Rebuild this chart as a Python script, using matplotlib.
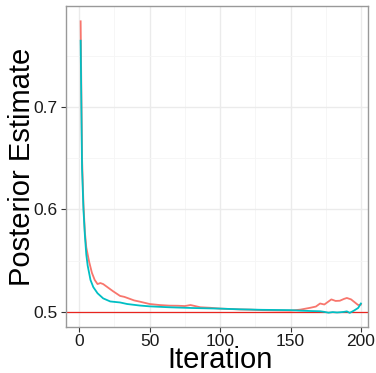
import matplotlib.pyplot as plt
from matplotlib.ticker import MultipleLocator

plt.rcParams['font.family'] = ['Liberation Sans', 'DejaVu Sans']

# chain 1 (red)
iter_a = [1, 2, 3, 4, 5, 7, 9, 11, 13, 15, 17, 20, 24, 29, 32, 39, 43, 50, 57, 64,
          70, 75, 79, 86, 93, 100, 107, 114, 122, 130, 140, 150, 157, 164, 168,
          171, 174, 177, 179, 182, 185, 188, 190, 193, 195, 198, 200]
est_a = [0.784, 0.650, 0.605, 0.578, 0.563, 0.549, 0.538, 0.531, 0.527, 0.528, 0.527,
         0.524, 0.520, 0.5154, 0.5145, 0.511, 0.5098, 0.5075, 0.5065, 0.5059,
         0.5058, 0.5055, 0.5065, 0.5043, 0.5038, 0.503, 0.5026, 0.5022, 0.502,
         0.5015, 0.5012, 0.501, 0.502, 0.5038, 0.505,
         0.508, 0.507, 0.510, 0.512, 0.5105, 0.5107, 0.5125, 0.5134, 0.512, 0.5098,
         0.5065, 0.507]

# chain 2 (cyan)
iter_b = [1, 2, 3, 4, 5, 6, 8, 10, 13, 17, 22, 29, 34, 43, 50, 64, 80, 100, 114,
          130, 150, 157, 165, 171, 174, 177, 180, 183, 185, 188, 190, 192, 195,
          198, 200]
est_b = [0.765, 0.640, 0.600, 0.575, 0.556, 0.545, 0.531, 0.524, 0.518, 0.513,
         0.510, 0.509, 0.5075, 0.506, 0.5052, 0.5043, 0.5036, 0.503, 0.5023,
         0.5018, 0.5015, 0.501, 0.5006, 0.5004, 0.4998, 0.499, 0.4996, 0.4992,
         0.4994, 0.4998, 0.5003, 0.4988, 0.501, 0.5036, 0.508]

fig = plt.figure(figsize=(3.76, 3.73), dpi=100)
ax = fig.add_axes([0.1755, 0.1233, 0.8032, 0.8607])

ax.axhline(0.5, color='#E8251F', lw=0.9, zorder=2)
ax.plot(iter_a, est_a, color='#F8766D', lw=1.3, zorder=3)
ax.plot(iter_b, est_b, color='#00BFC4', lw=1.3, zorder=4)

ax.set_xlim(-9.4, 205)
ax.set_ylim(0.485, 0.799)
ax.xaxis.set_major_locator(MultipleLocator(50))
ax.xaxis.set_minor_locator(MultipleLocator(25))
ax.yaxis.set_minor_locator(MultipleLocator(0.05))
ax.set_yticks([0.5, 0.6, 0.7])
ax.set_yticklabels(['0.5', '0.6', '0.7'])

ax.grid(which='major', color='#EBEBEB', lw=1.0, zorder=0)
ax.grid(which='minor', color='#F5F5F5', lw=0.6, zorder=0)
ax.set_axisbelow(True)
for s in ax.spines.values():
    s.set_color('#999999')
    s.set_linewidth(1.0)
ax.tick_params(which='major', length=3.5, width=0.8, color='#333333',
               labelcolor='#1A1A1A')
ax.tick_params(axis='x', labelsize=12.5, pad=1.5)
ax.tick_params(axis='y', labelsize=12.5, pad=2.5)
ax.tick_params(which='minor', length=0)

# axis titles placed by baseline
fig.text(0.586, 1 - 368.0 / 373, 'Iteration', fontsize=21, ha='center', va='baseline')
fig.text(30.0 / 376, 0.5536, 'Posterior Estimate', fontsize=21, rotation=90,
         rotation_mode='anchor', ha='center', va='baseline')

fig.savefig('out.png', dpi=100)
